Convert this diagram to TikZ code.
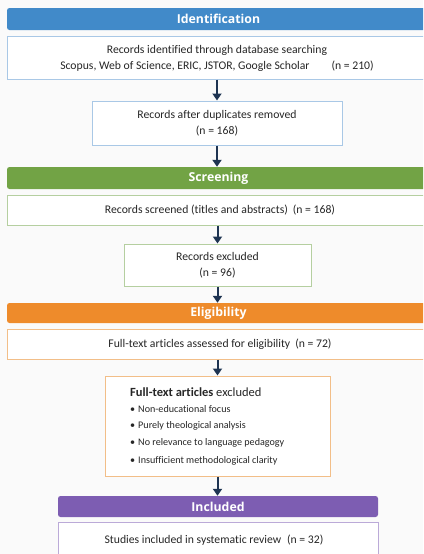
\documentclass[tikz,border=0pt]{standalone}
\usepackage{fontspec}
\setmainfont[Ligatures=NoCommon]{Carlito}
\newfontfamily\hdfont{Open Sans}
\usetikzlibrary{arrows.meta}
\definecolor{bgc}{HTML}{FAFAFA}
\definecolor{idc}{HTML}{418AC9}
\definecolor{idl}{HTML}{A9C8E6}
\definecolor{scc}{HTML}{72A345}
\definecolor{scl}{HTML}{B5CFA0}
\definecolor{elc}{HTML}{EE8B2B}
\definecolor{ell}{HTML}{F2BE88}
\definecolor{inc}{HTML}{7D5DB2}
\definecolor{inl}{HTML}{BBAAD8}
\definecolor{arc}{HTML}{1E3452}
\definecolor{txc}{HTML}{262626}
\tikzset{
  x=1pt, y=-1pt,
  bar/.style={rectangle, rounded corners=2.5pt, text=white, inner sep=0pt,
    font=\hdfont\bfseries\fontsize{12.3}{14}\selectfont},
  box/.style={rectangle, draw, line width=1pt, fill=white, inner sep=0pt,
    text=txc, align=center, font=\fontsize{11.7}{16}\selectfont},
  btext/.style={text=txc, align=center, inner sep=0pt, font=\fontsize{11.7}{16}\selectfont},
  arr/.style={draw=arc, line width=2pt, -{Triangle[width=9pt,length=7pt]}},
}
\begin{document}
\begin{tikzpicture}
\useasboundingbox (0,0) rectangle (423,554);
\fill[bgc] (0,0) rectangle (423,554);
\begin{scope}
\clip (0,0) rectangle (423,554);
% Identification
\node[bar, fill=idc, minimum width=423pt, minimum height=22pt] (idbar) at (218.5,19) {Identification};
\node[box, draw=idl, minimum width=423pt, minimum height=43pt] (b1) at (218.5,57.5) {};
\node[btext] (b1t) at (217,58)
  {Records identified through database searching\\Scopus, Web of Science, ERIC, JSTOR, Google Scholar\hspace{22pt}(n = 210)};
\node[box, draw=idl, minimum width=250pt, minimum height=44pt] (b2) at (217,123)
  {Records after duplicates removed\\(n = 168)};
% Screening
\node[bar, fill=scc, minimum width=423pt, minimum height=22pt] (scbar) at (218.5,178) {Screening};
\node[box, draw=scl, minimum width=423pt, minimum height=30pt] (b3) at (218.5,210) {};
\node[btext] (b3t) at (220,210)
  {Records screened (titles and abstracts)\hspace{5pt}(n = 168)};
\node[box, draw=scl, minimum width=187pt, minimum height=42pt] (b4) at (217.5,265)
  {Records excluded\\(n = 96)};
% Eligibility
\node[bar, fill=elc, minimum width=423pt, minimum height=20pt] (elbar) at (218.5,313) {Eligibility};
\node[box, draw=ell, minimum width=423pt, minimum height=30pt] (b5) at (218.5,344) {};
\node[btext] (b5t) at (220,344)
  {Full-text articles assessed for eligibility\hspace{5pt}(n = 72)};
\node[box, draw=ell, minimum width=225pt, minimum height=100pt] (b6) at (217.5,426) {};
\node[text=txc, anchor=west, inner sep=0pt, font=\fontsize{12.5}{14}\selectfont] (b6h) at (130,392)
  {\textbf{Full-text articles} excluded};
\foreach \yy/\tx [count=\i] in {409/Non-educational focus, 426/Purely theological analysis, 443/No relevance to language pedagogy, 461/Insufficient methodological clarity}{
  \node[text=txc, anchor=west, inner sep=0pt, font=\fontsize{10.1}{11}\selectfont] (bl\i) at (130,\yy) {\textbullet\hspace{3pt}\tx};
}
% Included
\node[bar, fill=inc, minimum width=320pt, minimum height=21pt] (inbar) at (218,506.5) {Included};
\node[box, draw=inl, minimum width=320pt, minimum height=40pt] (b7) at (218,542) {};
\node[btext] (b7t) at (214,540)
  {Studies included in systematic review\hspace{6pt}(n = 32)};
% arrows
\draw[arr] (b1.south -| b2.north) -- (b2.north);
\draw[arr] (b2.south) -- (scbar.north -| b2.south);
\draw[arr] (b3.south -| b4.north) -- (b4.north);
\draw[arr] (b4.south) -- (elbar.north -| b4.south);
\draw[arr] (b5.south -| b6.north) -- (b6.north);
\draw[arr] (b6.south) -- (inbar.north -| b6.south);
\end{scope}
\end{tikzpicture}
\end{document}
